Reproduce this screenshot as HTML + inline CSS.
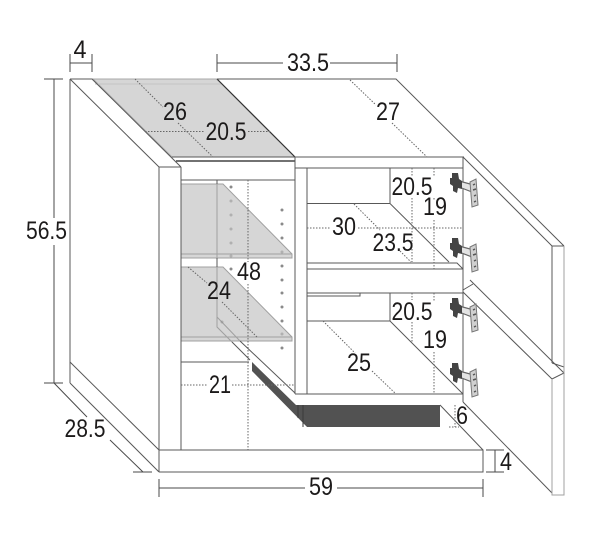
<!DOCTYPE html>
<html><head><meta charset="utf-8"><style>
html,body{margin:0;padding:0;background:#fff}
svg{display:block}
text{font-family:"Liberation Sans",sans-serif;font-size:25px;fill:#1c1a1a;text-anchor:middle}
.l{stroke:#585858;stroke-width:1;fill:none}
.f{stroke:#a0a0a0;stroke-width:1;fill:none}
.d{stroke:#4a4a4a;stroke-width:1;fill:none}
.t{stroke:#666;stroke-width:1;stroke-dasharray:1.5 1.5;fill:none}
.hole{fill:#8a8a8a}
</style></head><body>
<svg width="600" height="556" viewBox="0 0 600 556" xmlns="http://www.w3.org/2000/svg">
<defs><g id="hinge">
<path d="M9 8L24 12L22 19L9 14Z" fill="#e4e4e4" stroke="#666" stroke-width="1.2"/>
<polygon points="20,9 26,6 28,32 22,34" fill="#d0d0d0" stroke="#777" stroke-width="1"/>
<path d="M23 12l2-1M23 17l3-1M24 23l2-1M24 29l2-1" stroke="#555" stroke-width="1.5"/>
<polygon points="2,0 8,0 9,6 12,8 12,16 8,15 7,20 3,18 3,13 0,11 0,5 2,5" fill="#444"/>
</g></defs>

<!-- top gray -->
<polygon points="93,79 217,79 295,157 172,157" fill="#d6d6d6" stroke="#a8a8a8" stroke-width="1"/>
<path d="M95 84H222" stroke="#c4c4c4"/>
<path d="M217 79L295 157" stroke="#333" stroke-width="1.2"/>
<path d="M172 157H295" class="l"/>
<path d="M176 161H295" stroke="#444" stroke-width="1.4"/>

<!-- shelves -->
<polygon points="181,184 223,184 292,254 292,258 181,258" fill="#d6d6d6"/>
<polygon points="181,267 223,267 292,337 292,341 181,341" fill="#d6d6d6"/>
<path d="M181 184H223L292 254V258H181M181 254H292" class="f"/>
<path d="M181 267H223L292 337V341H181M181 337H292" class="f"/>

<!-- dark base -->
<polygon points="252,362 296,405 440,405 440,427 307,427 252,371" fill="#525252"/>
<path d="M303 405V427M298 405V418" stroke="#3a3a3a"/>

<!-- main left body -->
<path class="l" d="M70 79H92L181 167M70 79L159 167H181M70 79V383M159 167V472M181 167V450"/>
<path class="l" d="M70 362L159 450M70 383L159 472M159 450H483V472H159M181 180H295M181 362H249"/>
<path class="l" d="M295 157V394M217 180V184M217 258V267"/>
<path class="f" d="M217 184V258M217 267V327L232 342M217 317L240 341"/>
<path class="l" d="M232 342L250 360M240 341L295 393"/>

<!-- right compartment -->
<path class="l" d="M217 79H396L564 246M295 157H464M295 168H463M307 168V394M390 168V203M307 203.500H390L449 262M307 263H457L463 269M307 269H463M307 293H463M307 296H360V293M390 293V321M307 321H390L463 394M295 394H463M463 157V402M440 405L483 450"/>
<!-- doors -->
<path class="l" d="M463 157L552 246H564M552 246V363M552 363L564 367"/>
<path class="l" d="M463 290L473 284M470 280L564 373L552 379L463 292M463 402L552 493"/>
<path class="f" d="M552 379V495H564V373M564 246V373"/>

<!-- holes -->
<g class="hole">
<circle cx="231" cy="187" r="1.5"/><circle cx="231" cy="201" r="1.5" opacity=".5"/><circle cx="231" cy="215" r="1.5" opacity=".5"/><circle cx="231" cy="229" r="1.5" opacity=".5"/><circle cx="231" cy="243" r="1.5" opacity=".5"/><circle cx="231" cy="256" r="1.5" opacity=".5"/><circle cx="231" cy="269" r="1.5"/><circle cx="222" cy="322" r="1.5" opacity=".5"/>
<circle cx="282" cy="210" r="1.5"/><circle cx="282" cy="224" r="1.5"/><circle cx="282" cy="238" r="1.5"/><circle cx="282" cy="252" r="1.5" opacity=".5"/><circle cx="282" cy="266" r="1.5"/><circle cx="282" cy="280" r="1.5"/><circle cx="282" cy="293" r="1.5"/><circle cx="282" cy="307" r="1.5"/><circle cx="282" cy="321" r="1.5"/><circle cx="282" cy="334" r="1.5" opacity=".5"/><circle cx="282" cy="348" r="1.5"/>
</g>

<!-- hinges -->
<use href="#hinge" x="450" y="173"/><use href="#hinge" x="450" y="238"/><use href="#hinge" x="450" y="298"/><use href="#hinge" x="450" y="363"/>

<!-- dimension lines -->
<path class="d" d="M70 54V72M92 54V72M70 63H92"/>
<path class="d" d="M217 54V72M397 54V72M217 63H283M330 63H397"/>
<path class="d" d="M44 79H63M54 79V218M54 245V383M44 383H63M54 383L87 417M110 440L143 472M133 472H152"/>
<path class="d" d="M159 479V497M483 479V497M159 488H305M337 488H483"/>
<path class="d" d="M486 450H504M486 472H504M495 450V472"/>

<!-- dotted -->
<path class="t" d="M135 79L163 107M178 123L213 157M145 131.500H205M248 131.500H270"/>
<path class="t" d="M350 80L376 105M392 123L427 157"/>
<path class="t" d="M412 168V176M412 198V262M434 168V176M434 198V200M434 220V269"/>
<path class="t" d="M307 228H331M358 228H463M354 204L380 230M400 251L411 262"/>
<path class="t" d="M412 293V300M412 322V342M434 293V301M434 352V394"/>
<path class="t" d="M323 321L355 353M372 371L396 394"/>
<path class="t" d="M181 385H207M232 385H295"/>
<path class="t" d="M248 180V262M248 284V450"/>
<path class="t" d="M188 267L207 283M222 302L257 337"/>
<path class="t" d="M455 405V427M449 427H459"/>

<!-- labels -->
<g>
<text x="80" y="58" textLength="13" lengthAdjust="spacingAndGlyphs">4</text>
<text x="308" y="71" textLength="42" lengthAdjust="spacingAndGlyphs">33.5</text>
<text x="175" y="120" textLength="24" lengthAdjust="spacingAndGlyphs">26</text>
<text x="226" y="140" textLength="41" lengthAdjust="spacingAndGlyphs">20.5</text>
<text x="388" y="120" textLength="24" lengthAdjust="spacingAndGlyphs">27</text>
<text x="46.500" y="239" textLength="41" lengthAdjust="spacingAndGlyphs">56.5</text>
<text x="412" y="195" textLength="41" lengthAdjust="spacingAndGlyphs">20.5</text>
<text x="435" y="215" textLength="24" lengthAdjust="spacingAndGlyphs">19</text>
<text x="344" y="235" textLength="24" lengthAdjust="spacingAndGlyphs">30</text>
<text x="393" y="251" textLength="41" lengthAdjust="spacingAndGlyphs">23.5</text>
<text x="249" y="280" textLength="24" lengthAdjust="spacingAndGlyphs">48</text>
<text x="219" y="299" textLength="24" lengthAdjust="spacingAndGlyphs">24</text>
<text x="412" y="320" textLength="41" lengthAdjust="spacingAndGlyphs">20.5</text>
<text x="435" y="348" textLength="24" lengthAdjust="spacingAndGlyphs">19</text>
<text x="359" y="371" textLength="24" lengthAdjust="spacingAndGlyphs">25</text>
<text x="220" y="393" textLength="22" lengthAdjust="spacingAndGlyphs">21</text>
<text x="85" y="437" textLength="41" lengthAdjust="spacingAndGlyphs">28.5</text>
<text x="462" y="424" textLength="12" lengthAdjust="spacingAndGlyphs">6</text>
<text x="506" y="470" textLength="12" lengthAdjust="spacingAndGlyphs">4</text>
<text x="321" y="495" textLength="24" lengthAdjust="spacingAndGlyphs">59</text>
</g>
</svg>
</body></html>
